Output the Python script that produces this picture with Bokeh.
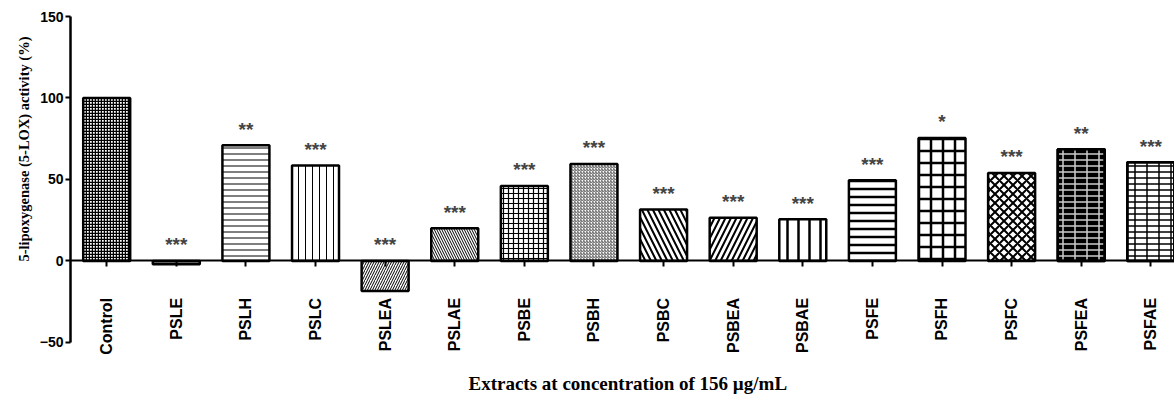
import math
from bokeh.plotting import figure
from bokeh.models import Range1d, FixedTicker, ColumnDataSource, Title
from bokeh.embed import file_html
from bokeh.resources import INLINE
from bokeh.core.properties import value

# ---- data ----
categories = ["Control", "PSLE", "PSLH", "PSLC", "PSLEA", "PSLAE", "PSBE", "PSBH",
              "PSBC", "PSBEA", "PSBAE", "PSFE", "PSFH", "PSFC", "PSFEA", "PSFAE"]
activity = [100, -2, 71, 58.5, -18.5, 20, 46, 59.5, 31.5, 26.5, 25.5, 49.5, 75.5, 54, 68.5, 60.5]
significance = ["", "***", "**", "***", "***", "***", "***", "***", "***", "***", "***",
                "***", "*", "***", "**", "***"]
y_ticks = [-50, 0, 50, 100, 150]
y_label = "5-lipoxygenase (5-LOX) activity (%)"
x_label = "Extracts at concentration of 156 \u00b5g/mL"

# ---- styles ----
hatch_patterns = ["+", "/", "-", "|", "/", "\\", "+", "/", "\\", "/", "|", "-", "+", "x", "-", "-"]
hatch_scales = [3, 4, 6, 7, 5, 5, 5, 3, 11, 11, 11, 8, 12, 9, 6, 6]
hatch_weights = [1.5, 1, 1, 1, 1, 1, 1.2, 1, 2, 2, 2.5, 2.5, 2.5, 2, 1.5, 1.5]
fill_colors = ["white"] * 14 + ["black", "white"]
hatch_colors = ["black"] * 7 + ["#555555"] + ["black"] * 6 + ["#cccccc", "black"]
# second hatch layer (vertical joints) for the "brick" bars
overlay_patterns = [None] * 14 + ["|", "|"]
overlay_scale = 12

xs = list(range(len(categories)))


def subset(idx):
    return ColumnDataSource(dict(
        x=[xs[i] for i in idx], top=[activity[i] for i in idx],
        hp=[hatch_patterns[i] for i in idx], hs=[hatch_scales[i] for i in idx],
        hw=[hatch_weights[i] for i in idx], fc=[fill_colors[i] for i in idx],
        hc=[hatch_colors[i] for i in idx],
        op=[overlay_patterns[i] for i in idx]))


x_start = -0.52
x_end = 15.34

p = figure(width=1174, height=400, output_backend="svg", toolbar_location=None,
           x_range=Range1d(x_start, x_end), y_range=Range1d(-64.8, 150),
           min_border_left=70, min_border_right=0, min_border_top=16, min_border_bottom=34)
p.outline_line_color = None
p.grid.visible = False
p.background_fill_color = "white"

p.vbar(x="x", top="top", bottom=0, width=0.675, source=subset(xs),
       fill_color="fc", line_color="black", line_width=2.5,
       hatch_pattern="hp", hatch_scale="hs", hatch_weight="hw", hatch_color="hc")

layered = [i for i, o in enumerate(overlay_patterns) if o is not None]
p.vbar(x="x", top="top", bottom=0, width=0.675, source=subset(layered),
       fill_alpha=0, line_color="black", line_width=2.5,
       hatch_pattern="op", hatch_scale=overlay_scale, hatch_weight="hw", hatch_color="hc")

star_src = ColumnDataSource(dict(x=xs, base=[max(v, 0) for v in activity], sig=significance))
p.text(x="x", y="base", text="sig", source=star_src, y_offset=-16,
       text_align="center", text_baseline="alphabetic",
       text_font=value("Liberation Sans"), text_font_style="bold",
       text_font_size="19px", text_color="#444444")

# x axis at y = 0
xa = p.xaxis[0]
xa.fixed_location = 0
xa.ticker = FixedTicker(ticks=xs)
xa.major_label_overrides = {i: c for i, c in zip(xs, categories)}
xa.major_label_orientation = math.pi / 2
xa.axis_line_width = 2
xa.major_tick_out = 6
xa.major_tick_in = 0
xa.major_tick_line_width = 2
xa.minor_tick_line_color = None
xa.major_label_standoff = 31
xa.major_label_text_font = "Liberation Sans"
xa.major_label_text_font_style = "bold"
xa.major_label_text_font_size = "16px"
xa.major_label_text_color = "black"

ya = p.yaxis[0]
ya.ticker = FixedTicker(ticks=y_ticks)
ya.bounds = (-50, 150)
ya.axis_line_width = 2.5
ya.major_tick_out = 5
ya.major_tick_in = 0
ya.major_tick_line_width = 2
ya.minor_tick_line_color = None
ya.major_label_standoff = 2
ya.major_label_text_font = "Liberation Sans"
ya.major_label_text_font_style = "bold"
ya.major_label_text_font_size = "14px"
ya.major_label_text_color = "black"

p.add_layout(Title(text=y_label, align="right", offset=20,
                   text_font="Liberation Serif", text_font_style="bold",
                   text_font_size="14.5px", text_color="black"), "left")
p.add_layout(Title(text=x_label, align="left", offset=398, vertical_align="middle",
                   text_font="Liberation Serif", text_font_style="bold",
                   text_font_size="19px", text_color="black"), "below")

open("out.html", "w").write(file_html(p, INLINE))
